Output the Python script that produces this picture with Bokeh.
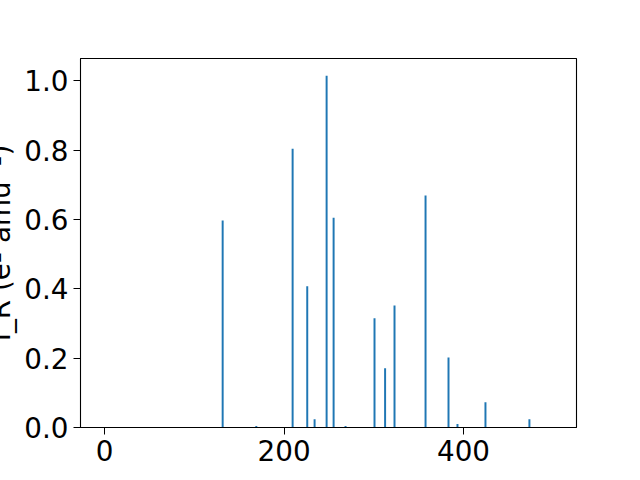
from bokeh.plotting import figure
from bokeh.models import Range1d, FixedTicker, Label, ColumnDataSource
from bokeh.embed import file_html
from bokeh.resources import INLINE

# Data
freq = [131.5, 169.0, 209.5, 225.8, 234.0, 247.4, 255.2, 268.5,
        300.8, 312.6, 323.1, 357.7, 383.3, 393.3, 424.5, 473.5]
intensity = [0.597, 0.004, 0.804, 0.407, 0.024, 1.014, 0.605, 0.004,
             0.315, 0.171, 0.352, 0.669, 0.202, 0.010, 0.073, 0.024]
x_ticks = [0, 200, 400]
y_ticks = [0.0, 0.2, 0.4, 0.6, 0.8, 1.0]
x_label = "Frequency (cm⁻¹)"
y_label = "I_R (e² amu⁻¹)"

FONT = "DejaVu Sans"
FS = "27.8px"

x0, x1 = -27.0, 526.0
y0, y1 = 0.0, 1.064

# frame geometry in page pixels
F_LEFT, F_RIGHT, F_TOP, F_BOTTOM = 80, 576, 58, 427
SHIFT = 6.3  # offset between requested and drawn baseline of the labels

p = figure(width=640, height=480, output_backend="svg", toolbar_location=None,
           x_range=Range1d(x0, x1), y_range=Range1d(y0, y1),
           min_border_left=F_LEFT, min_border_right=640 - F_RIGHT,
           min_border_top=F_TOP, min_border_bottom=480 - F_BOTTOM)

src = ColumnDataSource(dict(x=freq, top=intensity))
p.vbar(x="x", top="top", bottom=0, width=2.2, source=src,
       fill_color="#1f77b4", line_color=None)

p.xgrid.visible = False
p.ygrid.visible = False
p.outline_line_color = "black"
p.outline_line_width = 1.1
p.background_fill_color = "white"
p.border_fill_color = "white"

for ax in (p.xaxis[0], p.yaxis[0]):
    ax.major_label_text_font = FONT
    ax.major_label_text_font_size = FS
    ax.major_label_text_color = "black"
    ax.major_tick_out = 7
    ax.major_tick_in = 0
    ax.minor_tick_out = 0
    ax.minor_tick_in = 0
    ax.axis_line_color = "black"
    ax.major_tick_line_color = "black"
    ax.major_label_standoff = 5

p.xaxis.ticker = FixedTicker(ticks=x_ticks)
p.yaxis.ticker = FixedTicker(ticks=y_ticks)
p.yaxis.major_label_overrides = {t: f"{t:.1f}" for t in y_ticks}
p.xaxis.major_label_overrides = {t: str(t) for t in x_ticks}

# axis titles, partly outside the canvas as in the reference
px_per_x = (F_RIGHT - F_LEFT) / (x1 - x0)
px_per_y = (F_BOTTOM - F_TOP) / (y1 - y0)
ylab = Label(x=x0 - (F_LEFT - 6.5 + SHIFT) / px_per_x, y=(y0 + y1) / 2,
             text=y_label, angle=1.5708,
             text_align="center", text_baseline="alphabetic",
             text_font=FONT, text_font_size=FS, text_color="black")
xlab = Label(x=(x0 + x1) / 2, y=y0 - (498 - SHIFT - F_BOTTOM) / px_per_y,
             text=x_label,
             text_align="center", text_baseline="alphabetic",
             text_font=FONT, text_font_size=FS, text_color="black")
p.add_layout(ylab, "right")
p.add_layout(xlab, "above")

open("out.html", "w").write(file_html(p, INLINE))
